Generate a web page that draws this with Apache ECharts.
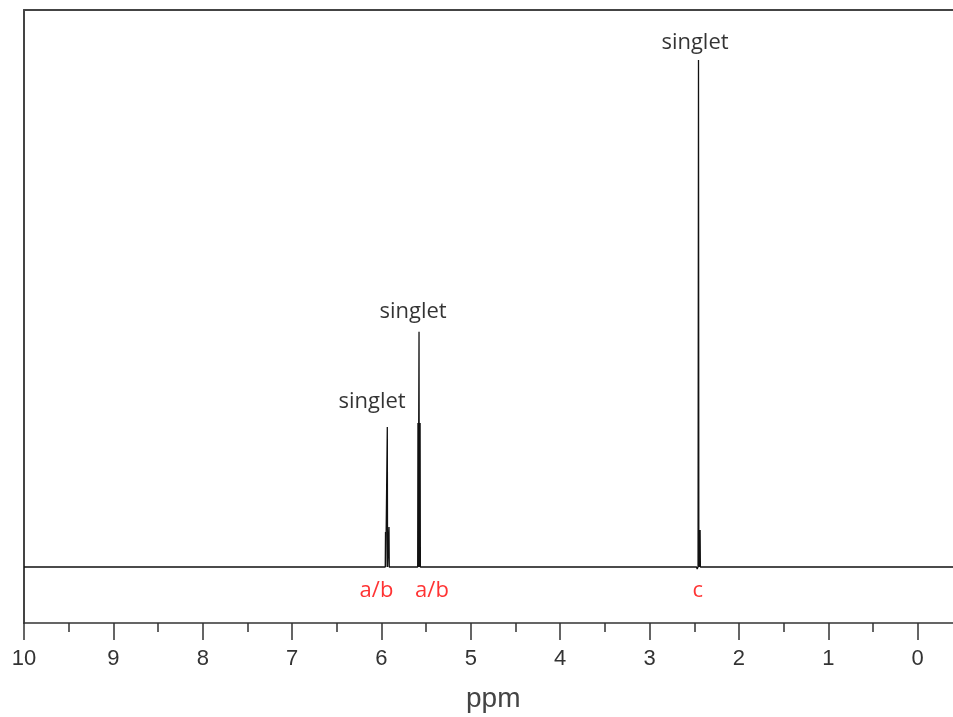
<!DOCTYPE html>
<html>
<head>
<meta charset="utf-8">
<title>NMR spectrum</title>
<style>
  html, body { margin: 0; padding: 0; background: #fff; }
  #chart { width: 953px; height: 717px; }
</style>
</head>
<body>
<div id="chart"></div>
<script src="https://cdn.jsdelivr.net/npm/echarts@6/dist/echarts.min.js"></script>
<script>
// spectrum trace (ppm, intensity)
var specPpm = [10, 5.958, 5.955, 5.952, 5.938, 5.935, 5.932, 5.919, 5.916, 5.913,
               5.595, 5.592, 5.589, 5.583, 5.58, 5.577, 5.571, 5.568, 5.565,
               2.475, 2.468, 2.458, 2.453, 2.449, 2.446, 2.443, 2.44, 2.437, 2.435, 2.432, -1];
var specInt = [0, 0, 6.9, 0, 0, 27.6, 0, 0, 7.9, 0,
               0, 28.4, 0, 0, 46.4, 0, 0, 28.4, 0,
               0, -0.4, 0, 100, 0, 0, 7.3, 0, 0, 7.3, 0, 0];

// "singlet" notes above peaks
var notePpm = [6.106, 5.647, 2.492];
var noteInt = [32.5, 50.3, 103.5];
var noteText = ['singlet', 'singlet', 'singlet'];

// red assignments under baseline
var assignPpm = [6.056, 5.435, 2.462];
var assignInt = [-4.73, -4.73, -4.73];
var assignText = ['a/b', 'a/b', 'c'];

var myChart = echarts.init(document.getElementById('chart'));

var spectrum = [];
for (var i = 0; i < specPpm.length; i++) {
  spectrum.push([specPpm[i], specInt[i]]);
}
var notes = notePpm.map(function (x, i) { return { name: noteText[i], value: [x, noteInt[i]] }; });
var assigns = assignPpm.map(function (x, i) { return { name: assignText[i], value: [x, assignInt[i]] }; });

var option = {
  animation: false,
  title: {
    text: 'ppm',
    left: 466,
    top: 685,
    padding: 0,
    textStyle: { fontFamily: 'Liberation Sans', fontSize: 28, fontWeight: 'normal', color: '#444' }
  },
  grid: { left: 24, top: 10, right: -54.1, bottom: 94, outerBoundsMode: 'none', containLabel: false },
  xAxis: [{
    type: 'value',
    min: -1,
    max: 10,
    interval: 1,
    inverse: true,
    position: 'bottom',
    axisLine: { show: true, onZero: false, lineStyle: { color: '#333', width: 1.5 } },
    axisTick: { show: true, length: 17, lineStyle: { color: '#333', width: 1.5 } },
    minorTick: { show: true, splitNumber: 2, length: 9, lineStyle: { color: '#333', width: 1.5 } },
    axisLabel: { margin: 25, fontFamily: 'Liberation Sans', fontSize: 22, color: '#333' },
    splitLine: { show: false }
  }, {
    type: 'value',
    min: -1,
    max: 10,
    interval: 1,
    inverse: true,
    position: 'top',
    axisLine: { show: true, onZero: false, lineStyle: { color: '#444', width: 2 } },
    axisTick: { show: false },
    axisLabel: { show: false },
    splitLine: { show: false }
  }],
  yAxis: {
    type: 'value',
    min: -11.05,
    max: 109.86,
    axisLine: { show: true, onZero: false, lineStyle: { color: '#444', width: 2 } },
    axisTick: { show: false },
    axisLabel: { show: false },
    splitLine: { show: false }
  },
  series: [
    {
      type: 'line',
      data: spectrum,
      symbol: 'none',
      lineStyle: { color: '#111', width: 1.3 }
    },
    {
      type: 'scatter',
      data: notes,
      symbolSize: 0,
      label: {
        show: true, position: 'inside', formatter: '{b}',
        fontFamily: 'Open Sans', fontSize: 22, color: '#000', textBorderWidth: 0
      }
    },
    {
      type: 'scatter',
      data: assigns,
      symbolSize: 0,
      label: {
        show: true, position: 'inside', formatter: '{b}',
        fontFamily: 'Open Sans', fontSize: 22, color: '#ff0000', textBorderWidth: 0
      }
    }
  ]
};

myChart.setOption(option);
</script>
</body>
</html>
